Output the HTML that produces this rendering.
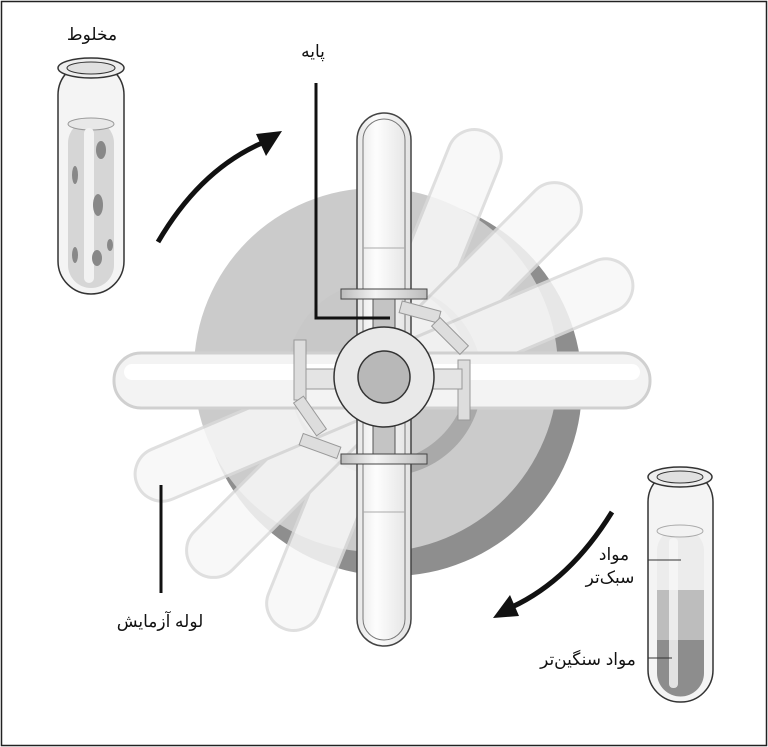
<!DOCTYPE html>
<html><head><meta charset="utf-8"><style>
html,body{margin:0;padding:0;background:#fff}
svg{display:block}
text{font-family:"Liberation Sans","DejaVu Sans",sans-serif;font-size:17px;fill:#111}
</style></head><body>
<svg width="768" height="747" viewBox="0 0 768 747" xmlns="http://www.w3.org/2000/svg">
<defs>
<linearGradient id="tg" x1="0" x2="1" y1="0" y2="0">
<stop offset="0" stop-color="#e6e6e6"/><stop offset="0.35" stop-color="#fdfdfd"/><stop offset="1" stop-color="#e2e2e2"/>
</linearGradient>
<linearGradient id="cg" x1="0" x2="1"><stop offset="0" stop-color="#bbb"/><stop offset="0.4" stop-color="#f4f4f4"/><stop offset="1" stop-color="#bbb"/></linearGradient>
</defs>
<rect x="1.5" y="1.5" width="765" height="744" fill="#fff" stroke="#222" stroke-width="1.5"/>

<!-- disc -->
<circle cx="392" cy="386" r="190" fill="#8e8e8e"/>
<circle cx="376" cy="370" r="182" fill="#cbcbcb"/>
<circle cx="386" cy="380" r="96" fill="#a9a9a9"/>
<circle cx="378" cy="372" r="90" fill="#c8c8c8"/>

<!-- faded tubes -->
<g fill="#f7f7f7" stroke="#dadada" stroke-width="3" opacity="0.85">
<rect x="-27" y="-268" width="54" height="536" rx="27" transform="translate(384,380) rotate(22)"/>
<rect x="-27" y="-268" width="54" height="536" rx="27" transform="translate(384,380) rotate(45)"/>
<rect x="-27" y="-268" width="54" height="536" rx="27" transform="translate(384,380) rotate(67)"/>
</g>
<!-- horizontal tube -->
<rect x="114" y="353" width="536" height="55" rx="27" fill="#f3f3f3" stroke="#d0d0d0" stroke-width="3"/>
<rect x="124" y="364" width="516" height="16" rx="8" fill="#fff"/>
<!-- vertical tube -->
<rect x="357" y="113" width="54" height="533" rx="27" fill="url(#tg)" stroke="#444" stroke-width="1.5"/>
<rect x="363" y="119" width="42" height="521" rx="21" fill="none" stroke="#777" stroke-width="1"/>
<line x1="363" y1="248" x2="405" y2="248" stroke="#aaa"/>
<line x1="363" y1="512" x2="405" y2="512" stroke="#aaa"/>
<!-- small brackets -->
<g fill="#ddd" stroke="#999" stroke-width="1">
<rect x="294" y="340" width="12" height="60"/>
<rect x="458" y="360" width="12" height="60"/>
<rect x="400" y="306" width="40" height="12" transform="rotate(15 420 312)"/>
<rect x="430" y="330" width="40" height="12" transform="rotate(45 450 336)"/>
<rect x="300" y="440" width="40" height="12" transform="rotate(20 320 446)"/>
<rect x="290" y="410" width="40" height="12" transform="rotate(55 310 416)"/>
</g>
<!-- spokes -->
<rect x="373" y="299" width="22" height="160" fill="#c4c4c4" stroke="#555"/>
<rect x="306" y="369" width="156" height="20" fill="#e4e4e4" stroke="#999"/>
<!-- clamps -->
<rect x="341" y="289" width="86" height="10" fill="url(#cg)" stroke="#444"/>
<rect x="341" y="454" width="86" height="10" fill="url(#cg)" stroke="#444"/>
<!-- hub -->
<circle cx="384" cy="377" r="50" fill="#e9e9e9" stroke="#333" stroke-width="1.5"/>
<circle cx="384" cy="377" r="26" fill="#b8b8b8" stroke="#333" stroke-width="1.5"/>

<!-- pole label line -->
<polyline points="316,83 316,318 390,318" fill="none" stroke="#111" stroke-width="3"/>
<text x="313" y="57" text-anchor="middle">پایه</text>

<!-- tube label -->
<line x1="161" y1="485" x2="161" y2="593" stroke="#111" stroke-width="3"/>
<text x="160" y="627" text-anchor="middle">لوله آزمایش</text>

<!-- arrows -->
<path d="M158 242 Q200 170 262 143" fill="none" stroke="#111" stroke-width="5"/>
<polygon points="282,131 256,134 266,156" fill="#111"/>
<path d="M612 512 Q570 580 512 607" fill="none" stroke="#111" stroke-width="5"/>
<polygon points="493,618 519,616 510,595" fill="#111"/>

<!-- mixture tube -->
<text x="92" y="40" text-anchor="middle">مخلوط</text>
<rect x="58" y="62" width="66" height="232" rx="33" fill="#f4f4f4" stroke="#333" stroke-width="1.5"/>
<rect x="68" y="120" width="46" height="168" rx="23" fill="#d6d6d6"/>
<ellipse cx="91" cy="124" rx="23" ry="6" fill="#e8e8e8" stroke="#999"/>
<rect x="84" y="128" width="10" height="155" rx="5" fill="#f2f2f2"/>
<g fill="#888"><ellipse cx="101" cy="150" rx="5" ry="9"/><ellipse cx="98" cy="205" rx="5" ry="11"/><ellipse cx="75" cy="175" rx="3" ry="9"/><ellipse cx="110" cy="245" rx="3" ry="6"/><ellipse cx="97" cy="258" rx="5" ry="8"/><ellipse cx="75" cy="255" rx="3" ry="8"/></g>
<ellipse cx="91" cy="68" rx="33" ry="10" fill="#eee" stroke="#333" stroke-width="1.5"/>
<ellipse cx="91" cy="68" rx="24" ry="6" fill="#e0e0e0" stroke="#333"/>

<!-- separated tube -->
<rect x="648" y="470" width="65" height="232" rx="32" fill="#f4f4f4" stroke="#333" stroke-width="1.5"/>
<rect x="657" y="528" width="47" height="168" rx="23" fill="#ececec"/>
<rect x="657" y="590" width="47" height="50" fill="#bdbdbd"/>
<path d="M657 640 H704 V673 A23 23 0 0 1 657 673 Z" fill="#8d8d8d"/>
<ellipse cx="680" cy="531" rx="23" ry="6" fill="#f2f2f2" stroke="#aaa"/>
<rect x="669" y="538" width="9" height="150" rx="4" fill="#f8f8f8" opacity="0.8"/>
<ellipse cx="680" cy="477" rx="32" ry="10" fill="#eee" stroke="#333" stroke-width="1.5"/>
<ellipse cx="680" cy="477" rx="23" ry="6" fill="#e0e0e0" stroke="#333"/>
<line x1="648" y1="560" x2="681" y2="560" stroke="#333"/>
<line x1="648" y1="658" x2="672" y2="658" stroke="#333"/>
<text x="614" y="560" text-anchor="middle">مواد</text>
<text x="610" y="583" text-anchor="middle">سبک‌تر</text>
<text x="588" y="665" text-anchor="middle">مواد سنگین‌تر</text>
</svg>
</body></html>
